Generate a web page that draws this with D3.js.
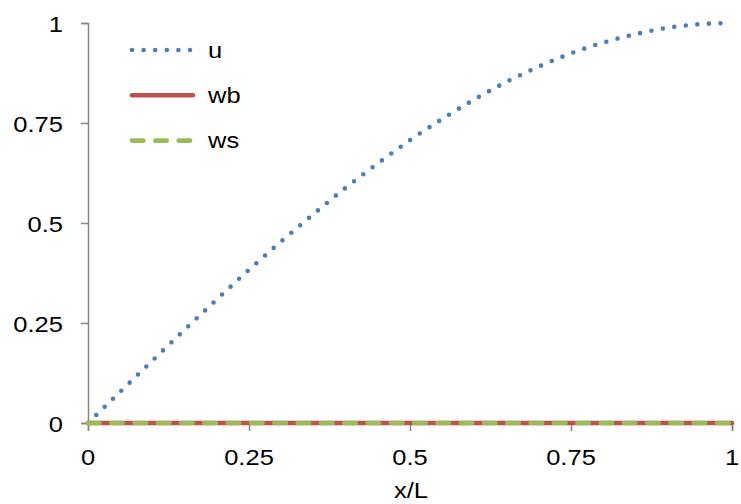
<!DOCTYPE html>
<html><head><meta charset="utf-8">
<script src="https://cdn.jsdelivr.net/npm/d3@7"></script>
<style>body{margin:0;background:#fff}svg{display:block}</style>
</head><body>
<svg id="c" width="741" height="504"></svg>
<script>
const xValues = [0,0.05,0.1,0.15,0.2,0.25,0.3,0.35,0.4,0.45,0.5,0.55,0.6,0.65,0.7,0.75,0.8,0.85,0.9,0.95,1];
const uValues = [0,0.078,0.156,0.233,0.309,0.383,0.454,0.522,0.588,0.649,0.707,0.760,0.809,0.853,0.891,0.924,0.951,0.972,0.988,0.997,1.0];
const wbValues = [0,0,0,0,0,0,0,0,0,0,0,0,0,0,0,0,0,0,0,0,0];
const wsValues = [0,0,0,0,0,0,0,0,0,0,0,0,0,0,0,0,0,0,0,0,0];
const xTicks = [0,0.25,0.5,0.75,1];
const yTicks = [0,0.25,0.5,0.75,1];
const tickLabels = ["0","0.25","0.5","0.75","1"];
const seriesNames = ["u","wb","ws"];

const svg = d3.select("#c");
const x = d3.scaleLinear().domain([0,1]).range([88,732]);
const y = d3.scaleLinear().domain([0,1]).range([423,23]);
const axisColor = "#868686";
const font = "Liberation Sans, Arial, sans-serif";
const sx = 1.16;

// axes
const gy = svg.append("g").attr("transform","translate(88,0)")
  .call(d3.axisLeft(y).tickValues(yTicks).tickSize(7).tickFormat(""));
const gx = svg.append("g").attr("transform","translate(0,423)")
  .call(d3.axisBottom(x).tickValues(xTicks).tickSize(8).tickFormat(""));
[gx,gy].forEach(g=>{
  g.select(".domain").attr("stroke",axisColor).attr("stroke-width",1.5);
  g.selectAll(".tick line").attr("stroke",axisColor).attr("stroke-width",1.5);
});

function txt(t,px,py,anchor){
  svg.append("text").text(t)
    .attr("transform",`translate(${px},${py}) scale(${sx},1)`)
    .attr("text-anchor",anchor).attr("font-family",font).attr("font-size",22).attr("fill","#000");
}
yTicks.forEach((v,i)=>txt(tickLabels[i],63,y(v)+8.5,"end"));
xTicks.forEach((v,i)=>txt(tickLabels[i],x(v),465,"middle"));
txt("x/L",411,498,"middle");

const line = d3.line().x((d,i)=>x(xValues[i])).y(d=>y(d)).curve(d3.curveMonotoneX);

const styles = [
  {color:"#4A7EBB", dash:"0 11.6", cap:"round", w:4.6},
  {color:"#C0504D", dash:null, cap:"round", w:4.6},
  {color:"#9BBB59", dash:"11.5 11.8", cap:"round", w:4.6}
];
const data = [uValues, wbValues, wsValues];
data.forEach((vals,k)=>{
  const s = styles[k];
  const p = svg.append("path").datum(vals).attr("d",line)
    .attr("fill","none").attr("stroke",s.color).attr("stroke-width",s.w)
    .attr("stroke-linecap",s.cap);
  if(s.dash) p.attr("stroke-dasharray",s.dash);
});

// legend
seriesNames.forEach((n,k)=>{
  const s = styles[k];
  const ly = 50 + k*45.3;
  const l = svg.append("line").attr("x1",132).attr("x2",193).attr("y1",ly).attr("y2",ly)
    .attr("stroke",s.color).attr("stroke-width",s.w).attr("stroke-linecap",s.cap);
  if(s.dash) l.attr("stroke-dasharray",s.dash);
  txt(n,208,ly+7.5,"start");
});
</script>
</body></html>
